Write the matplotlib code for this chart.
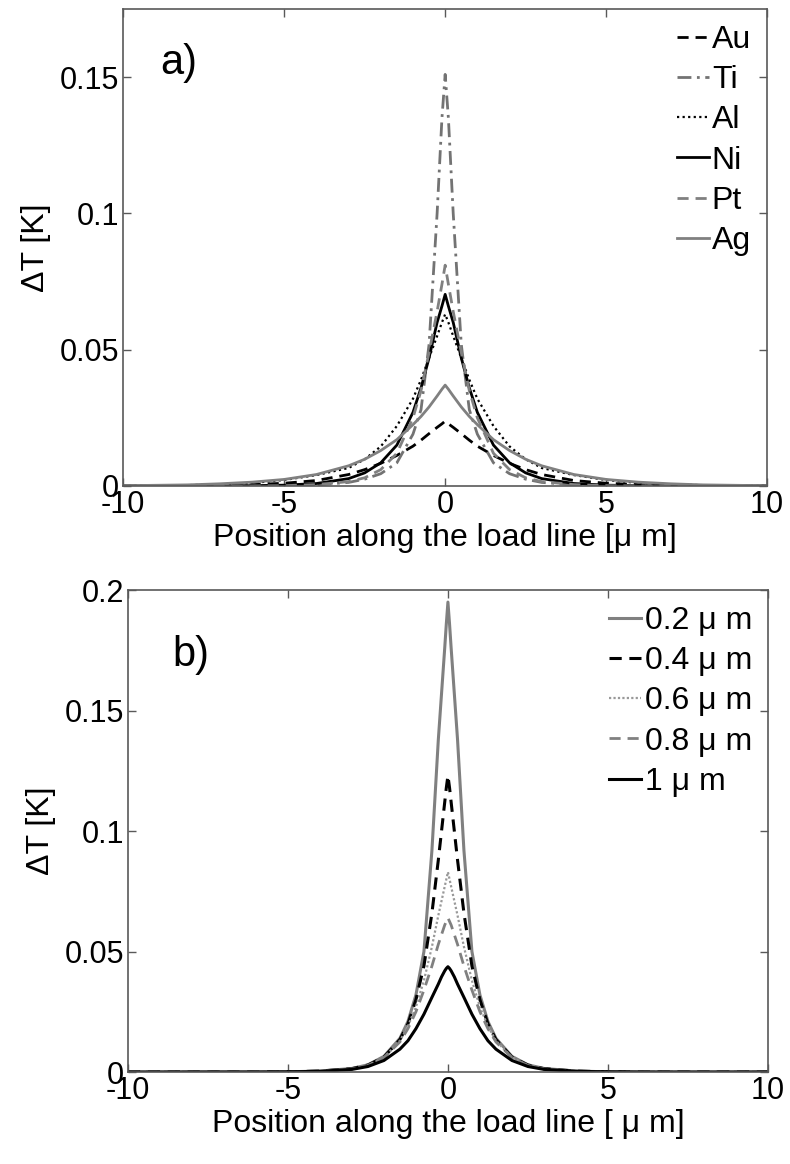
import matplotlib
matplotlib.use("Agg")
import matplotlib.pyplot as plt
import matplotlib.ticker as ticker
import numpy as np

plt.rcParams['font.family'] = ['Liberation Sans', 'DejaVu Sans']
plt.rcParams['axes.unicode_minus'] = False

# half profiles (x >= 0); curves are symmetric about x = 0
x_a = [0, 0.1, 0.25, 0.5, 0.75, 1.0, 1.5, 2.0, 2.5, 3.0, 4.0, 5.0, 6.0, 7.0, 8.0, 10.0]
au = [0.0238, 0.0228, 0.0215, 0.0192, 0.0168, 0.0146, 0.0112, 0.0083, 0.0060, 0.0042, 0.0020, 0.0010, 0.0005, 0.0002, 0.0001, 0.0]
ti = [0.151, 0.135, 0.100, 0.052, 0.028, 0.019, 0.0085, 0.0045, 0.0025, 0.0013, 0.0004, 0.0001, 0.0, 0.0, 0.0, 0.0]
al = [0.063, 0.060, 0.055, 0.047, 0.039, 0.032, 0.022, 0.0145, 0.0098, 0.0066, 0.0040, 0.0022, 0.0011, 0.0006, 0.0003, 0.0001]
ni = [0.0703, 0.066, 0.060, 0.047, 0.036, 0.027, 0.015, 0.0085, 0.0048, 0.0027, 0.0009, 0.0003, 0.0001, 0.0, 0.0, 0.0]
pt = [0.081, 0.074, 0.064, 0.049, 0.035, 0.025, 0.012, 0.006, 0.003, 0.0016, 0.0005, 0.0001, 0.0, 0.0, 0.0, 0.0]
ag = [0.037, 0.0355, 0.033, 0.029, 0.0255, 0.0225, 0.017, 0.013, 0.0098, 0.0074, 0.0042, 0.0024, 0.0014, 0.0008, 0.0004, 0.0001]
metals = ["Au", "Ti", "Al", "Ni", "Pt", "Ag"]

x_b = [0, 0.05, 0.1, 0.2, 0.3, 0.5, 0.75, 1.0, 1.25, 1.5, 2.0, 2.5, 3.0, 4.0, 5.0, 6.0, 8.0, 10.0]
w02 = [0.195, 0.186, 0.176, 0.157, 0.138, 0.092, 0.050, 0.032, 0.021, 0.014, 0.0065, 0.0030, 0.0015, 0.0004, 0.0001, 0.0, 0.0, 0.0]
w04 = [0.123, 0.118, 0.112, 0.100, 0.088, 0.066, 0.044, 0.030, 0.020, 0.0135, 0.0062, 0.0029, 0.0014, 0.0004, 0.0001, 0.0, 0.0, 0.0]
w06 = [0.083, 0.080, 0.077, 0.071, 0.065, 0.052, 0.038, 0.027, 0.019, 0.013, 0.0060, 0.0028, 0.0013, 0.0004, 0.0001, 0.0, 0.0, 0.0]
w08 = [0.064, 0.0625, 0.061, 0.057, 0.053, 0.044, 0.034, 0.025, 0.018, 0.0125, 0.0060, 0.0027, 0.0013, 0.0004, 0.0001, 0.0, 0.0, 0.0]
w10 = [0.0437, 0.043, 0.042, 0.0395, 0.0365, 0.031, 0.024, 0.018, 0.013, 0.0095, 0.0048, 0.0023, 0.0011, 0.0003, 0.0001, 0.0, 0.0, 0.0]
widths = ["0.2 \u03bc m", "0.4 \u03bc m", "0.6 \u03bc m", "0.8 \u03bc m", "1 \u03bc m"]


def mirror(x, y):
    x = np.asarray(x)
    y = np.asarray(y)
    return np.concatenate([-x[::-1], x[1:]]), np.concatenate([y[::-1], y[1:]])


def style_axes(ax, ylim, yticks, xlabel):
    ax.set_xlim(-10, 10)
    ax.set_ylim(*ylim)
    ax.set_xticks([-10, -5, 0, 5, 10])
    ax.set_yticks(yticks)
    ax.yaxis.set_major_formatter(ticker.FuncFormatter(lambda v, p: f"{v:g}"))
    ax.tick_params(direction="in", top=True, right=True, labelsize=22, length=6,
                   width=1, color="0.35", pad=3)
    for s in ax.spines.values():
        s.set_color("0.35")
        s.set_linewidth(1.2)
    ax.set_xlabel(xlabel, fontsize=23, labelpad=2)
    ax.set_ylabel("\u0394T [K]", fontsize=23, labelpad=6)


fig = plt.figure(figsize=(7.9, 11.64), dpi=100)

# panel a
ax1 = fig.add_axes([0.156, 0.5825, 0.815, 0.4098])
styles_a = [("k", (0, (4, 2.5)), 2.0), ("0.45", (0, (5, 2, 1, 2)), 2.0), ("k", (0, (1, 1.5)), 1.6),
            ("k", "-", 2.0), ("0.5", (0, (4, 2.5)), 2.0), ("0.5", "-", 2.0)]
for name, y, (c, ls, lw) in zip(metals, [au, ti, al, ni, pt, ag], styles_a):
    xx, yy = mirror(x_a, y)
    ax1.plot(xx, yy, color=c, linestyle=ls, linewidth=lw, label=name)
style_axes(ax1, (0, 0.175), [0, 0.05, 0.1, 0.15], "Position along the load line [\u03bc m]")
ax1.text(0.057, 0.887, "a)", transform=ax1.transAxes, fontsize=30, va="center")
ax1.legend(loc="upper right", frameon=False, fontsize=23, handlelength=1.0,
           handletextpad=0.1, labelspacing=0.32, borderaxespad=0.3, borderpad=0.2)

# panel b
ax2 = fig.add_axes([0.162, 0.0790, 0.810, 0.4141])
styles_b = [("0.5", "-", 2.2), ("k", (0, (4, 2.5)), 2.2), ("0.6", (0, (1, 1)), 1.6),
            ("0.5", (0, (4, 2.5)), 2.0), ("k", "-", 2.2)]
for name, y, (c, ls, lw) in zip(widths, [w02, w04, w06, w08, w10], styles_b):
    xx, yy = mirror(x_b, y)
    ax2.plot(xx, yy, color=c, linestyle=ls, linewidth=lw, label=name)
style_axes(ax2, (0, 0.2), [0, 0.05, 0.1, 0.15, 0.2], "Position along the load line [ \u03bc m]")
ax2.text(0.069, 0.866, "b)", transform=ax2.transAxes, fontsize=30, va="center")
ax2.legend(loc="upper right", frameon=False, fontsize=23, handlelength=1.0,
           handletextpad=0.1, labelspacing=0.32, borderaxespad=0.3, borderpad=0.2)

fig.savefig("out.png", dpi=100)
